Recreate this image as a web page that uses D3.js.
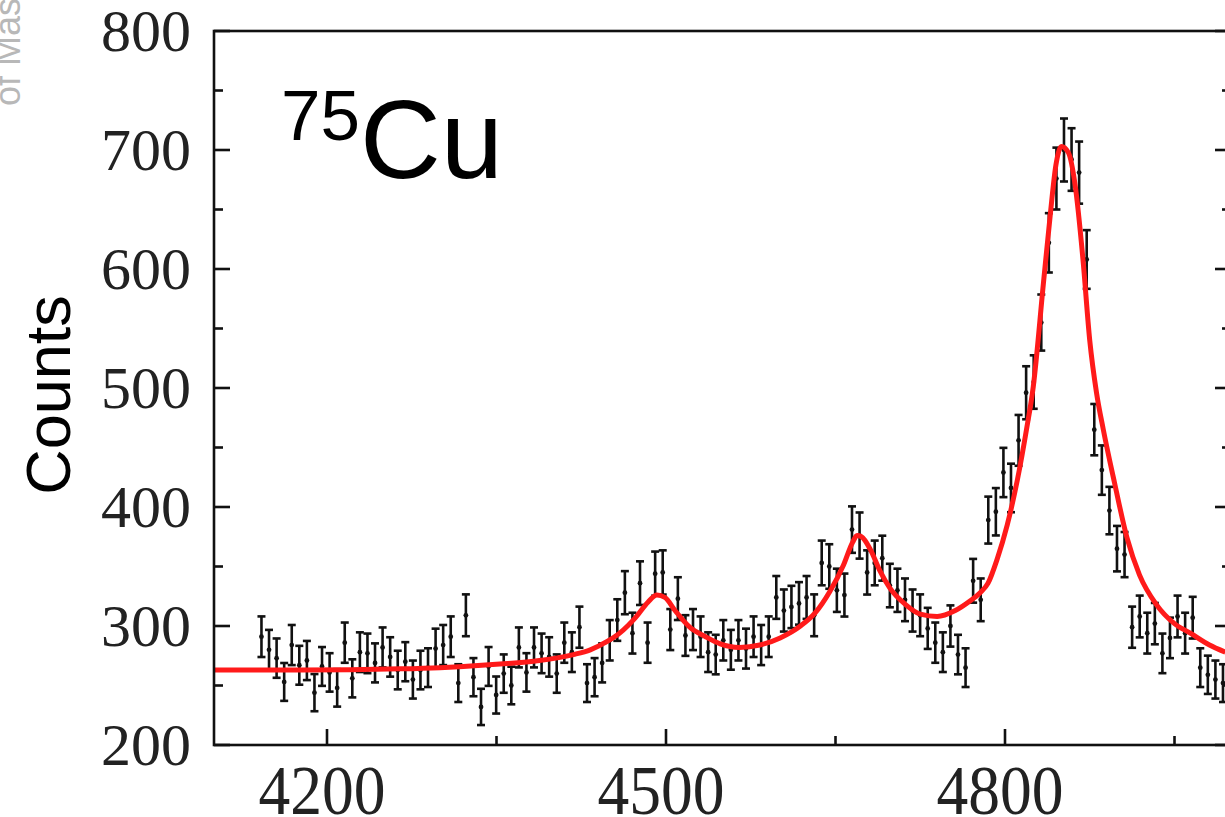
<!DOCTYPE html>
<html>
<head>
<meta charset="utf-8">
<script src="https://cdn.jsdelivr.net/npm/d3@7"></script>
<style>
  body { margin: 0; background: #fff; overflow: hidden; }
  svg { display: block; }
</style>
</head>
<body>
<div id="chart"></div>
<script>
// histogram bins (keV) and counts
var binStart = 4142,
    binWidth = 6.7;

var counts = [
  291, 280, 273, 253, 284, 267, 271, 244, 266, 261,
  248, 286, 256, 278, 277, 269, 282, 274, 263, 270,
  255, 263, 265, 281, 284, 291, 252, 309, 257, 232,
  266, 242, 260, 250, 282, 261, 282, 277, 274, 260,
  286, 278, 299, 252, 257, 269, 288, 305, 328, 294,
  336, 286, 344, 345, 297, 323, 292, 297, 291, 278,
  276, 288, 280, 288, 281, 291, 284, 291, 324, 313,
  316, 319, 324, 309, 353, 350, 330, 326, 381, 376,
  345, 353, 357, 334, 330, 322, 313, 309, 298, 286,
  278, 300, 276, 265, 338, 322, 389, 396, 429, 416,
  456, 496, 505, 555, 622, 676, 700, 692, 681, 608,
  465, 431, 397, 365, 360, 299, 308, 294, 302, 277,
  290, 308, 294, 307, 265, 259, 255, 252
];

// fitted curve, sampled from the red line
var fitX = [4100, 4176, 4265, 4300, 4353, 4388, 4418, 4433, 4448, 4459,
            4473, 4484, 4492, 4499, 4508, 4521, 4535, 4548, 4565, 4583,
            4601, 4619, 4632, 4645, 4657, 4665, 4669, 4673, 4681, 4689,
            4698, 4712, 4725, 4740, 4756, 4769, 4778, 4785, 4793, 4802,
            4811, 4819, 4825, 4834, 4840, 4845, 4850, 4856, 4862, 4869,
            4875, 4881, 4887, 4897, 4908, 4919, 4934, 4950, 4964, 4981, 4995];
var fitY = [263, 263, 264, 265, 268, 271, 276, 280, 287, 294,
            307, 320, 326, 324, 313, 299, 291, 285, 282, 284,
            290, 300, 311, 329, 351, 370, 376, 375, 364, 347,
            332, 318, 310, 308, 313, 321, 328, 336, 356, 385,
            423, 465, 501, 588, 645, 687, 703, 698, 671, 608,
            540, 496, 465, 420, 374, 343, 318, 302, 294, 284, 278];

var yTicks = [200, 300, 400, 500, 600, 700, 800];
var xTicks = [4200, 4500, 4800];

var width = 1225,
    height = 817;

var svg = d3.select('#chart')
    .append('svg')
    .attr('width', width)
    .attr('height', height);

var x = d3.scaleLinear().domain([4100, 5000]).range([214, 1231]);
var y = d3.scaleLinear().domain([200, 800]).range([745, 31]);

// faint leftover text from the neighbouring panel
svg.append('text')
    .attr('transform', 'translate(20,106) rotate(-90)')
    .style('font-family', 'Liberation Sans, Arial, sans-serif')
    .style('font-size', '36px')
    .style('fill', '#b8b8b8')
    .text('of Mass');

var plot = svg.append('g');

// fit curve
var line = d3.line()
    .curve(d3.curveMonotoneX)
    .x(function(d, i) { return x(fitX[i]); })
    .y(function(d) { return y(d); });

// error bars
var pts = counts.map(function(c, i) {
    return {x: binStart + i * binWidth, v: c, e: Math.sqrt(c)};
});

var bars = plot.selectAll('.bar')
    .data(pts)
    .enter()
    .append('g')
    .attr('class', 'bar')
    .style('stroke', '#111')
    .style('stroke-width', 2.6);

bars.append('line')
    .attr('x1', function(d) { return x(d.x); })
    .attr('x2', function(d) { return x(d.x); })
    .attr('y1', function(d) { return y(d.v - d.e); })
    .attr('y2', function(d) { return y(d.v + d.e); });

bars.append('line')
    .attr('x1', function(d) { return x(d.x) - 4; })
    .attr('x2', function(d) { return x(d.x) + 4; })
    .attr('y1', function(d) { return y(d.v + d.e); })
    .attr('y2', function(d) { return y(d.v + d.e); });

bars.append('line')
    .attr('x1', function(d) { return x(d.x) - 4; })
    .attr('x2', function(d) { return x(d.x) + 4; })
    .attr('y1', function(d) { return y(d.v - d.e); })
    .attr('y2', function(d) { return y(d.v - d.e); });

plot.selectAll('.dot')
    .data(pts)
    .enter()
    .append('circle')
    .attr('class', 'dot')
    .attr('cx', function(d) { return x(d.x); })
    .attr('cy', function(d) { return y(d.v); })
    .attr('r', 2.4)
    .style('fill', '#111');

plot.append('path')
    .datum(fitY)
    .attr('d', line)
    .style('fill', 'none')
    .style('stroke', '#ff1a1a')
    .style('stroke-width', 5);

// frame + ticks
var frame = svg.append('g')
    .style('stroke', '#111')
    .style('stroke-width', 2.6)
    .style('fill', 'none');

frame.append('rect')
    .attr('x', x(4100))
    .attr('y', y(800))
    .attr('width', x(5000) - x(4100))
    .attr('height', y(200) - y(800));

var yMinor = d3.range(250, 800, 100);
var xMinor = [4350, 4650, 4950];

function yTick(v, len) {
    frame.append('line')
        .attr('x1', x(4100)).attr('x2', x(4100) + len)
        .attr('y1', y(v)).attr('y2', y(v));
    frame.append('line')
        .attr('x1', x(5000)).attr('x2', x(5000) - len)
        .attr('y1', y(v)).attr('y2', y(v));
}
yTicks.forEach(function(v) { yTick(v, 16); });
yMinor.forEach(function(v) { yTick(v, 9); });

function xTick(v, len) {
    frame.append('line')
        .attr('x1', x(v)).attr('x2', x(v))
        .attr('y1', y(200)).attr('y2', y(200) - len);
}
xTicks.forEach(function(v) { xTick(v, 16); });
xMinor.forEach(function(v) { xTick(v, 9); });

// tick labels
svg.selectAll('.ylab')
    .data(yTicks)
    .enter()
    .append('text')
    .attr('class', 'ylab')
    .attr('x', 191)
    .attr('y', function(d) { return y(d); })
    .attr('dy', '0.34em')
    .style('text-anchor', 'end')
    .style('font-family', 'Liberation Serif, Times New Roman, serif')
    .style('font-size', '60px')
    .style('fill', '#222')
    .text(function(d) { return d; });

svg.selectAll('.xlab')
    .data(xTicks)
    .enter()
    .append('text')
    .attr('class', 'xlab')
    .attr('x', function(d) { return x(d) - 5; })
    .attr('y', 814)
    .attr('textLength', 127)
    .attr('lengthAdjust', 'spacingAndGlyphs')
    .style('text-anchor', 'middle')
    .style('font-family', 'Liberation Serif, Times New Roman, serif')
    .style('font-size', '70px')
    .style('fill', '#222')
    .text(function(d) { return d; });

// axis title
svg.append('text')
    .attr('transform', 'translate(70,395) rotate(-90)')
    .style('text-anchor', 'middle')
    .style('font-family', 'Liberation Sans, Arial, sans-serif')
    .style('font-size', '63px')
    .style('fill', '#000')
    .text('Counts');

// isotope label
var iso = svg.append('text')
    .attr('x', 281)
    .attr('y', 178)
    .style('font-family', 'Liberation Sans, Arial, sans-serif')
    .style('fill', '#000');
iso.append('tspan')
    .attr('dy', -38)
    .style('font-size', '71px')
    .text('75');
iso.append('tspan')
    .attr('dy', 38)
    .style('font-size', '112px')
    .text('Cu');
</script>
</body>
</html>
